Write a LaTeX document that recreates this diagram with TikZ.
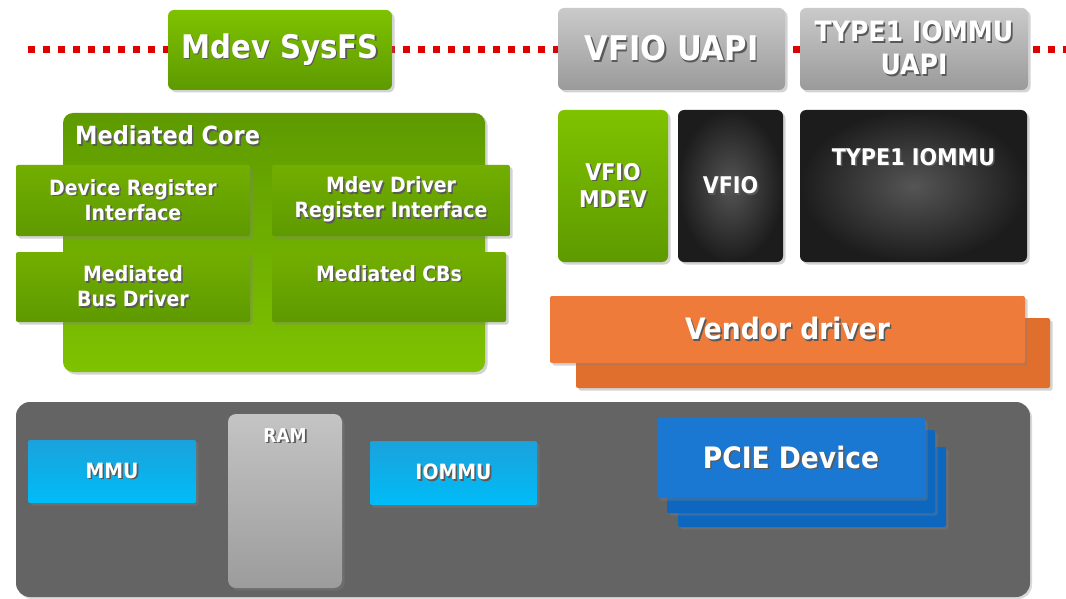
\documentclass[tikz,border=0pt]{standalone}
\usepackage{fontspec}
\setmainfont{DejaVu Sans Condensed}
\usetikzlibrary{shadows}

% text with a dark offset shadow behind it (one line)
\newcommand\sht[1]{\makebox[0pt][l]{\raisebox{-1.6pt}{\hspace{1.6pt}\textcolor{black!65}{#1}}}#1}

\definecolor{gtop}{HTML}{7FC200}
\definecolor{gbot}{HTML}{5E9A00}
\definecolor{gsub}{HTML}{6BAC00}
\definecolor{uatop}{HTML}{CACACA}
\definecolor{uabot}{HTML}{9A9A9A}
\definecolor{dkin}{HTML}{555555}
\definecolor{dkout}{HTML}{1C1C1C}
\definecolor{orng}{HTML}{EF7B3A}
\definecolor{orngd}{HTML}{E06F2E}
\definecolor{panel}{HTML}{646464}
\definecolor{cytop}{HTML}{1BA2DC}
\definecolor{cybot}{HTML}{00BCF7}
\definecolor{pcie}{HTML}{1A78D2}
\definecolor{pcied}{HTML}{0E67BE}
\definecolor{ramtop}{HTML}{C4C4C4}
\definecolor{rambot}{HTML}{9C9C9C}
\definecolor{dotred}{HTML}{E00000}

\tikzset{
  base/.style={inner sep=0pt, text=white, font=\bfseries, align=center,
    drop shadow={shadow xshift=2.5pt, shadow yshift=-2.5pt, opacity=0.35}},
  greenbox/.style={base, rounded corners=6pt, top color=gtop, bottom color=gbot},
  corebox/.style={base, rounded corners=10pt, top color=gbot, bottom color=gtop},
  subbox/.style={base, rounded corners=2pt, top color=gtop!90!black, bottom color=gbot},
  uapibox/.style={base, rounded corners=6pt, top color=uatop, bottom color=uabot},
  darkbox/.style={base, rounded corners=6pt, inner color=dkin, outer color=dkout},
  vendorbox/.style={base, rounded corners=2pt, fill=orng},
  vendorback/.style={base, rounded corners=2pt, fill=orngd},
  panelbox/.style={inner sep=0pt, rounded corners=14pt, fill=panel,
    drop shadow={shadow xshift=2pt, shadow yshift=-2pt, opacity=0.3}},
  cyanbox/.style={base, rounded corners=2pt, top color=cytop, bottom color=cybot},
  rambox/.style={base, rounded corners=8pt, top color=ramtop, middle color=ramtop!70!white, bottom color=rambot},
  pciebox/.style={base, rounded corners=2pt, fill=pcie},
  pcieback/.style={base, rounded corners=2pt, fill=pcied},
  reddots/.style={dotred, line width=7pt, dash pattern=on 7pt off 8pt}
}

\begin{document}
\begin{tikzpicture}[x=1pt,y=-1pt]
\useasboundingbox (0,0) rectangle (1066,599);

% dotted user/kernel boundary
\coordinate (lineL) at (28,50);
\coordinate (lineR) at (1066,50);
\draw[reddots] (lineL) -- (lineR);

% user-space interfaces
\node[greenbox, minimum width=224pt, minimum height=80pt, font=\bfseries\fontsize{32.5}{36}\selectfont] (sysfs) at (280,50) {\sht{Mdev SysFS}};
\node[uapibox, minimum width=227pt, minimum height=82pt, font=\bfseries\fontsize{34}{36}\selectfont] (vuapi) at (671.5,49) {\sht{VFIO UAPI}};
\node[uapibox, minimum width=228pt, minimum height=82pt, font=\bfseries\fontsize{28}{33}\selectfont] (tuapi) at (914,49) {\sht{TYPE1 IOMMU}\\\sht{UAPI}};

% mediated core
\node[corebox, minimum width=422pt, minimum height=259pt] (core) at (274,242.5) {};
\node[anchor=base west, text=white, inner sep=0pt, font=\bfseries\fontsize{25}{25}\selectfont] (coretitle) at (75,145) {\sht{Mediated Core}};
\node[subbox, minimum width=234pt, minimum height=71pt, font=\bfseries\fontsize{21}{25}\selectfont] (devreg) at (133,200.5) {\sht{Device Register}\\\sht{Interface}};
\node[subbox, minimum width=238pt, minimum height=71pt, font=\bfseries\fontsize{21}{25}\selectfont] (drvreg) at (391,200.5) {\sht{Mdev Driver}\\\sht{Register Interface}};
\node[subbox, minimum width=234pt, minimum height=70pt, font=\bfseries\fontsize{21}{25}\selectfont] (busdrv) at (133,287) {\sht{Mediated}\\\sht{Bus Driver}};
\node[subbox, minimum width=234pt, minimum height=70pt] (cbs) at (389,287) {};
\node[anchor=base, text=white, inner sep=0pt, font=\bfseries\fontsize{21}{25}\selectfont] (cbstext) at (389,281) {\sht{Mediated CBs}};

% VFIO stack
\node[greenbox, minimum width=110pt, minimum height=152pt, font=\bfseries\fontsize{23}{27}\selectfont] (vmdev) at (613,186) {\sht{VFIO}\\\sht{MDEV}};
\node[darkbox, minimum width=105pt, minimum height=152pt] (vfio) at (730.5,186) {};
\node[text=white, inner sep=0pt, font=\bfseries\fontsize{23}{27}\selectfont] (vfiotext) at (730.5,186) {\sht{VFIO}};
\node[darkbox, minimum width=227pt, minimum height=152pt] (type1) at (913.5,186) {};
\node[anchor=base, text=white, inner sep=0pt, font=\bfseries\fontsize{23}{27}\selectfont] (type1text) at (913.5,165) {\sht{TYPE1 IOMMU}};

% vendor driver (stacked)
\node[vendorback, minimum width=474pt, minimum height=70pt] (vendor2) at (813,353) {};
\node[vendorbox, minimum width=475pt, minimum height=67pt, font=\bfseries\fontsize{29.5}{30}\selectfont] (vendor) at (787.5,329.5) {\sht{Vendor driver}};

% hardware
\node[panelbox, minimum width=1014pt, minimum height=195pt] (hw) at (523,499.5) {};
\node[cyanbox, minimum width=168pt, minimum height=63pt, font=\bfseries\fontsize{21}{22}\selectfont] (mmu) at (112,471.5) {\sht{MMU}};
\node[rambox, minimum width=114pt, minimum height=174pt] (ram) at (285,501) {};
\node[anchor=base, text=white, inner sep=0pt, font=\bfseries\fontsize{19}{20}\selectfont] (ramtext) at (285,442) {\sht{RAM}};
\node[cyanbox, minimum width=167pt, minimum height=64pt, font=\bfseries\fontsize{21}{22}\selectfont] (iommu) at (453.5,473) {\sht{IOMMU}};
\node[pcieback, minimum width=268pt, minimum height=80pt] (pcie3) at (812,487) {};
\node[pcieback, minimum width=268pt, minimum height=83pt] (pcie2) at (801,471.5) {};
\node[pciebox, minimum width=268pt, minimum height=80pt, font=\bfseries\fontsize{29.5}{30}\selectfont] (pcie) at (791,458) {\sht{PCIE Device}};
\end{tikzpicture}
\end{document}
